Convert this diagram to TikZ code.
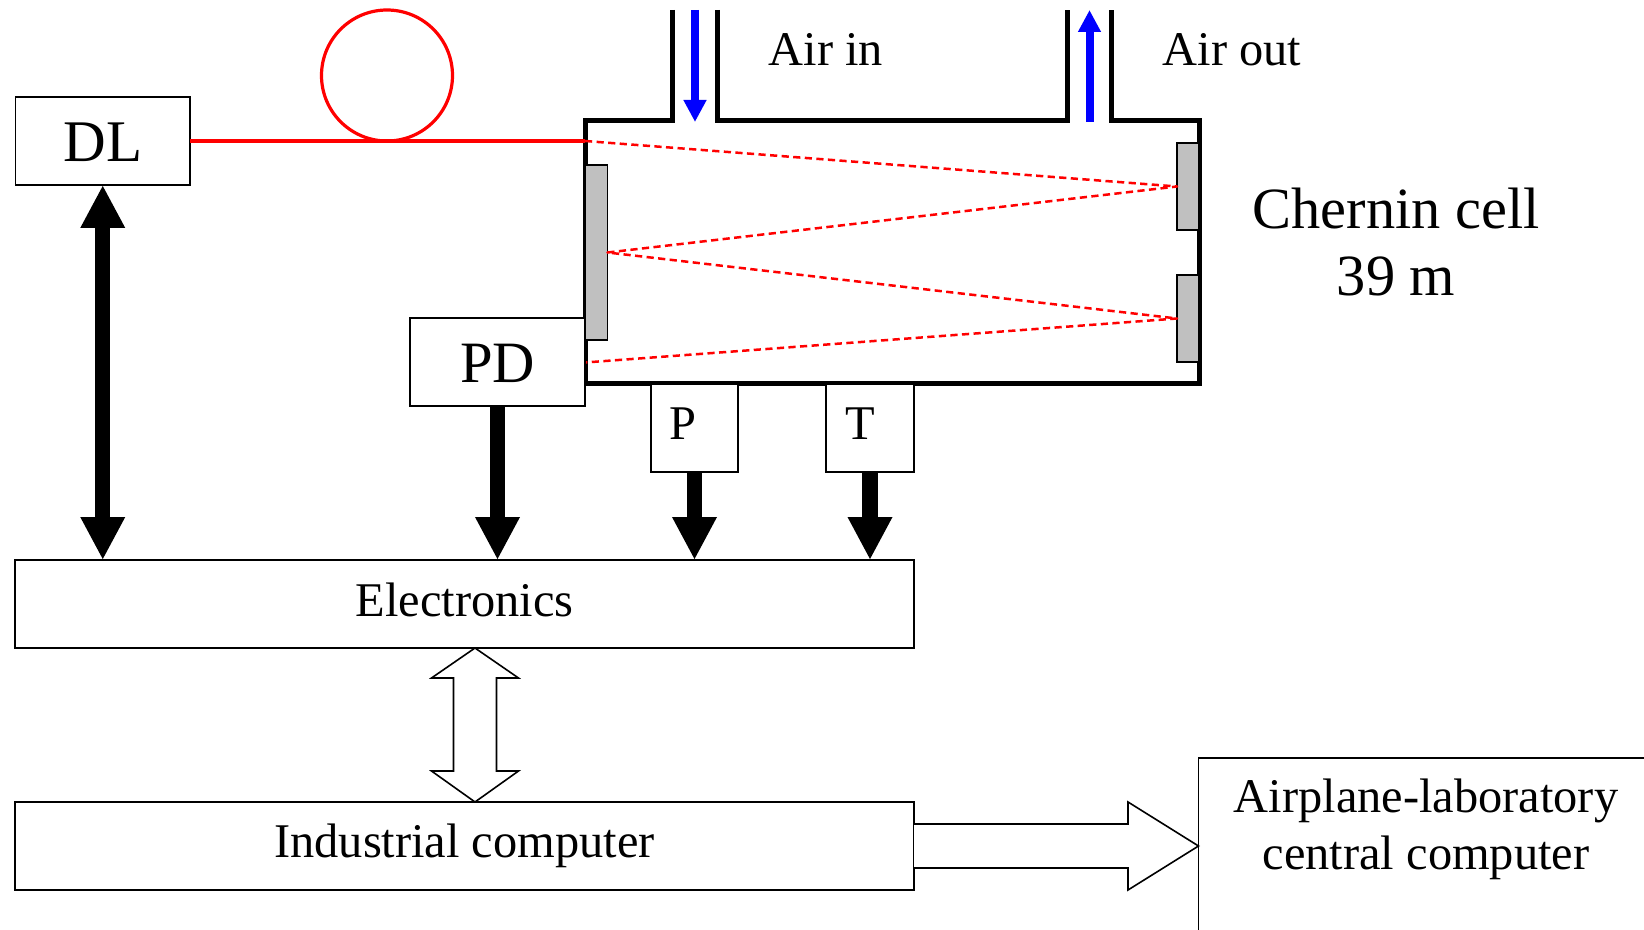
\documentclass[tikz,border=0pt]{standalone}
\usepackage{fontspec}
\setmainfont{Liberation Serif}
\usetikzlibrary{arrows.meta,calc}
\tikzset{
  boxnode/.style={draw=black,fill=white,line width=0.75pt,rectangle,inner sep=0pt,outer sep=0pt,align=center},
  mirror/.style={draw=black,fill=mirrorgray,line width=0.8pt,rectangle,inner sep=0pt,outer sep=0pt},
  txt/.style={anchor=base,inner sep=0pt,outer sep=0pt,font=\fontsize{24.2}{28}\selectfont},
  txtbig/.style={anchor=base,inner sep=0pt,outer sep=0pt,font=\fontsize{29.2}{34}\selectfont},
  cellwall/.style={draw=black,line width=2.5pt,line join=miter},
  fibre/.style={draw=fibrered,line width=1.6pt},
  beam/.style={draw=fibrered,line width=1.25pt,line join=round,dash pattern=on 3.6pt off 2.2pt},
  airflow/.style={draw=airblue,line width=4pt,-{Triangle[length=11pt,width=10.8pt]}},
  signal/.style={draw=black,line width=7.7pt,-{Triangle[length=21.5pt,width=20.8pt]}},
  signaltwo/.style={draw=black,line width=7.7pt,{Triangle[length=21.5pt,width=20.8pt]}-{Triangle[length=21.5pt,width=20.8pt]}},
  hollow/.style={draw=black,fill=white,line width=0.8pt,line join=miter},
}
\definecolor{mirrorgray}{HTML}{C0C0C0}
\definecolor{fibrered}{HTML}{FF0000}
\definecolor{airblue}{HTML}{0000FF}
\begin{document}
\begin{tikzpicture}[x=0.5pt,y=-0.5pt]
\useasboundingbox (0,0) rectangle (1644,930);
\clip (0,0) rectangle (1644,930);
\fill[white] (0,0) rectangle (1644,930);

% chernin cell body
\draw[cellwall] (672.6,10) -- (672.6,120.5) -- (585,120.5) -- (585,384) -- (1199,384) -- (1199,120.5) -- (1111,120.5) -- (1111,10);
\draw[cellwall] (717,10) -- (717,120.5) -- (1067,120.5) -- (1067,10);

% mirrors
\node[mirror,minimum width=11pt,minimum height=87.5pt] (mleft) at (596.5,252.5) {};
\node[mirror,minimum width=11pt,minimum height=43.5pt] (mtop) at (1188,186.5) {};
\node[mirror,minimum width=11pt,minimum height=43.5pt] (mbot) at (1188,318.5) {};

% beam path
\coordinate (inlet) at (585,141);
\coordinate (outlet) at (585,362.5);
\draw[beam] (inlet) -- (mtop.west) -- (mleft.east) -- (mbot.west) -- (outlet);

% boxes
\node[boxnode,minimum width=87.3pt,minimum height=44pt,text height=21pt,text depth=0pt,font=\fontsize{29.5}{32}\selectfont] (dl) at (102.75,141) {DL};
\node[boxnode,minimum width=87.5pt,minimum height=44pt,text height=20.5pt,text depth=0pt,font=\fontsize{29.3}{32}\selectfont] (pd) at (497.5,362) {PD};
\node[boxnode,minimum width=43.5pt,minimum height=44pt] (p) at (694.5,428) {};
\node[boxnode,minimum width=44pt,minimum height=44pt] (t) at (870,428) {};
\node[boxnode,minimum width=449.5pt,minimum height=44pt,text height=12pt,text depth=0pt,font=\fontsize{24.2}{28}\selectfont] (elec) at (464.5,604) {Electronics};
\node[boxnode,minimum width=449.5pt,minimum height=44pt,text height=11pt,text depth=0pt,font=\fontsize{24.2}{28}\selectfont] (ind) at (464.5,846) {Industrial computer};
\node[boxnode,minimum width=227.75pt,minimum height=100pt] (air) at (1426.25,858) {};

% labels
\node[txt] (plabel) at (683,440) {P};
\node[txt] (tlabel) at (860,440) {T};
\node[txt] (airin) at (826,66) {Air in};
\node[txt] (airout) at (1232,66) {Air out};
\node[txtbig] (cellname) at (1396,228.6) {Chernin cell};
\node[txtbig] (celllen) at (1396,295.7) {39 m};
\node[txt] (airone) at (1426,812) {Airplane-laboratory};
\node[txt] (airtwo) at (1426,869) {central computer};

% fibre
\node[circle,draw=fibrered,line width=1.6pt,minimum size=65.5pt,inner sep=0pt,outer sep=0pt] (loop) at (387,75.5) {};
\draw[fibre] (dl.east |- inlet) -- (inlet);

% air flow
\coordinate (intop) at (695,10);
\coordinate (inbot) at (695,122);
\coordinate (outbot) at (1089.5,122);
\coordinate (outtop) at (1089.5,10);
\draw[airflow] (intop) -- (inbot);
\draw[airflow] (outbot) -- (outtop);

% signal arrows
\draw[signaltwo] (dl.south) -- (dl.south |- elec.north);
\draw[signal] (pd.south) -- (pd.south |- elec.north);
\draw[signal] (p.south) -- (p.south |- elec.north);
\draw[signal] (t.south) -- (t.south |- elec.north);

% hollow arrows
\coordinate (hdtop) at ($(elec.south)+(10.5,0)$);
\draw[hollow] (hdtop) -- ++(43.5,30) -- ++(-22,0) -- ++(0,93) -- ++(22,0) -- ++(-43.5,31) -- ++(-43.5,-31) -- ++(22,0) -- ++(0,-93) -- ++(-22,0) -- cycle;
\coordinate (hrtip) at (air.west |- ind.east);
\draw[hollow] ($(ind.east)+(0,-22)$) -- ++(214,0) -- ++(0,-22) -- (hrtip) -- ++(-70.5,44) -- ++(0,-22) -- ($(ind.east)+(0,22)$);
\end{tikzpicture}
\end{document}
